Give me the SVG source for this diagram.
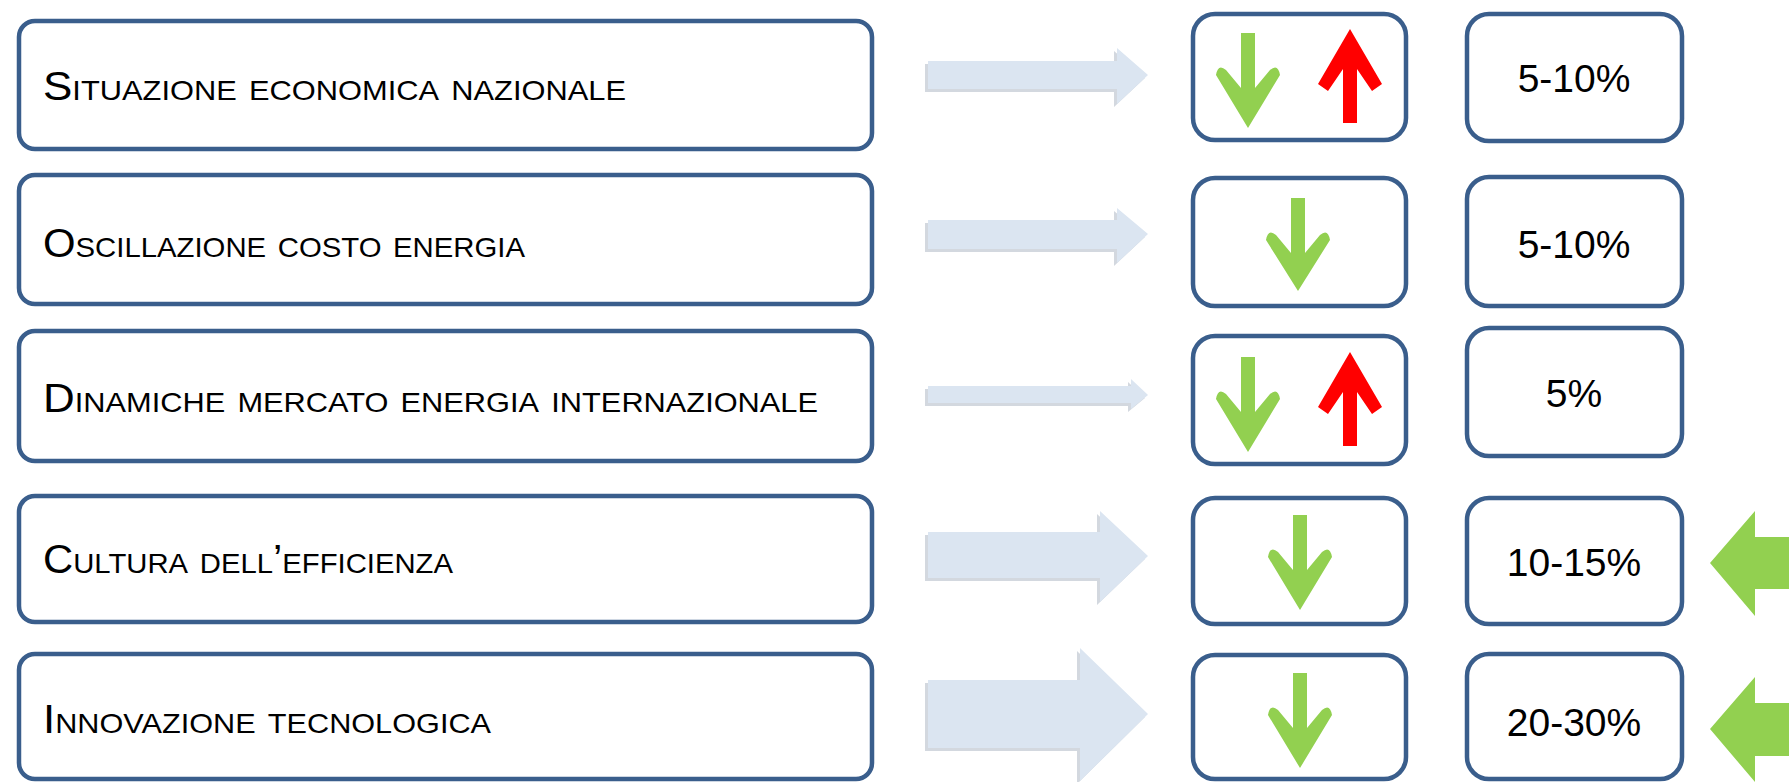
<svg xmlns="http://www.w3.org/2000/svg" width="1789" height="782" viewBox="0 0 1789 782">
<style>
.box{fill:#ffffff;stroke:#3a5e8c;stroke-width:4.5}
.lbl{font-family:"Liberation Sans",Arial,sans-serif;font-size:40px;font-variant:small-caps;fill:#000}
.pct{font-family:"Liberation Sans",Arial,sans-serif;font-size:39px;fill:#000;text-anchor:middle}
.blue{fill:#dbe5f1}
.blueSh{fill:#d3d8df}
.grn{fill:#92d050}
.red{fill:#ff0000}
</style>
<rect width="1789" height="782" fill="#ffffff"/>
<g id="connectors">
  <path class="blueSh" d="M925,64 H1114 V51 L1145,78 L1114,107 V92 H925 Z"/>
  <path class="blue" d="M928,61 H1117 V48 L1148,75 L1117,104 V89 H928 Z"/>
  <path class="blueSh" d="M925,223 H1114 V211 L1145,237 L1114,266 V252 H925 Z"/>
  <path class="blue" d="M928,220 H1117 V208 L1148,234 L1117,263 V249 H928 Z"/>
  <path class="blueSh" d="M925,389 H1128 V382 L1145,398 L1128,412 V406 H925 Z"/>
  <path class="blue" d="M928,386 H1131 V379 L1148,395 L1131,409 V403 H928 Z"/>
  <path class="blueSh" d="M925,535 H1097 V514 L1145,559 L1097,605 V581 H925 Z"/>
  <path class="blue" d="M928,532 H1100 V511 L1148,556 L1100,602 V578 H928 Z"/>
  <path class="blueSh" d="M925,683 H1077 V651 L1145,717 L1077,784 V751 H925 Z"/>
  <path class="blue" d="M928,680 H1080 V648 L1148,714 L1080,781 V748 H928 Z"/>
  <path class="grn" d="M1710,563 L1755,511 V537 H1792 V589 H1755 V616 Z"/>
  <path class="grn" d="M1710,729 L1755,677 V703 H1792 V756 H1755 V782 Z"/>
</g>
<g id="n1">
  <rect class="box" x="19" y="21" width="853" height="128" rx="16"/>
  <text class="lbl" x="43" y="100" textLength="583" lengthAdjust="spacingAndGlyphs">Situazione economica nazionale</text>
</g>
<g id="n2">
  <rect class="box" x="19" y="175" width="853" height="129" rx="16"/>
  <text class="lbl" x="43" y="257" textLength="482" lengthAdjust="spacingAndGlyphs">Oscillazione costo energia</text>
</g>
<g id="n3">
  <rect class="box" x="19" y="331" width="853" height="130" rx="16"/>
  <text class="lbl" x="43" y="412" textLength="775" lengthAdjust="spacingAndGlyphs">Dinamiche mercato energia internazionale</text>
</g>
<g id="n4">
  <rect class="box" x="19" y="496" width="853" height="126" rx="16"/>
  <text class="lbl" x="43" y="573" textLength="410" lengthAdjust="spacingAndGlyphs">Cultura dell’efficienza</text>
</g>
<g id="n5">
  <rect class="box" x="19" y="654" width="853" height="125" rx="16"/>
  <text class="lbl" x="43" y="733" textLength="448" lengthAdjust="spacingAndGlyphs">Innovazione tecnologica</text>
</g>
<g id="m1">
  <rect class="box" x="1193" y="14" width="213" height="126" rx="22"/>
  <path class="grn" d="M1241,33 H1255 V88 L1270,70 Q1278,63 1280,75 L1248,128 L1216,75 Q1218,63 1226,70 L1241,88 Z"/>
  <path class="red" d="M1350,29 L1382,84 L1372,91 L1357,69 V123 H1343 V69 L1328,91 L1318,84 Z"/>
</g>
<g id="m2">
  <rect class="box" x="1193" y="178" width="213" height="128" rx="22"/>
  <path class="grn" d="M1291,198 H1305 V253 L1320,235 Q1328,228 1330,240 L1298,291 L1266,240 Q1268,228 1276,235 L1291,253 Z"/>
</g>
<g id="m3">
  <rect class="box" x="1193" y="336" width="213" height="128" rx="22"/>
  <path class="grn" d="M1241,357 H1255 V412 L1270,394 Q1278,387 1280,399 L1248,452 L1216,399 Q1218,387 1226,394 L1241,412 Z"/>
  <path class="red" d="M1350,352 L1382,407 L1372,414 L1357,392 V446 H1343 V392 L1328,414 L1318,407 Z"/>
</g>
<g id="m4">
  <rect class="box" x="1193" y="498" width="213" height="126" rx="22"/>
  <path class="grn" d="M1293,515 H1307 V570 L1322,552 Q1330,545 1332,557 L1300,610 L1268,557 Q1270,545 1278,552 L1293,570 Z"/>
</g>
<g id="m5">
  <rect class="box" x="1193" y="655" width="213" height="124" rx="22"/>
  <path class="grn" d="M1293,673 H1307 V728 L1322,710 Q1330,703 1332,715 L1300,768 L1268,715 Q1270,703 1278,710 L1293,728 Z"/>
</g>
<g id="r1">
  <rect class="box" x="1467" y="14" width="215" height="127" rx="22"/>
  <text class="pct" x="1574" y="92">5-10%</text>
</g>
<g id="r2">
  <rect class="box" x="1467" y="177" width="215" height="129" rx="22"/>
  <text class="pct" x="1574" y="258">5-10%</text>
</g>
<g id="r3">
  <rect class="box" x="1467" y="328" width="215" height="128" rx="22"/>
  <text class="pct" x="1574" y="407">5%</text>
</g>
<g id="r4">
  <rect class="box" x="1467" y="498" width="215" height="126" rx="22"/>
  <text class="pct" x="1574" y="576">10-15%</text>
</g>
<g id="r5">
  <rect class="box" x="1467" y="654" width="215" height="125" rx="22"/>
  <text class="pct" x="1574" y="736">20-30%</text>
</g>
</svg>
